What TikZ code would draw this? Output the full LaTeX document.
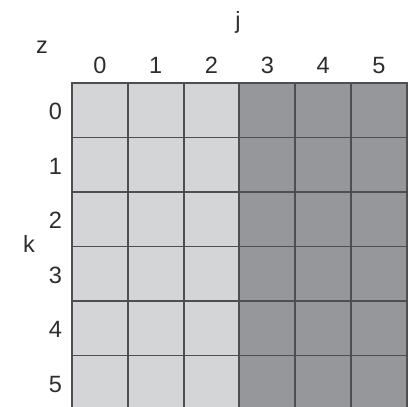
\documentclass[tikz,border=0pt]{standalone}
\usepackage{fontspec}
\setmainfont{Liberation Sans}
\usepackage{tikz}
\usetikzlibrary{positioning}
\definecolor{lightcell}{RGB}{212,213,215}
\definecolor{darkcell}{RGB}{150,151,155}
\definecolor{gridline}{RGB}{78,78,80}
\definecolor{labtext}{RGB}{45,45,45}

\begin{document}
\begin{tikzpicture}[
  x=0.02cm, y=-0.02cm,
  cell/.style={draw=gridline, line width=1.1pt},
  lab/.style={font=\fontsize{13.4}{16}\selectfont, text=labtext, anchor=base, inner sep=0pt}
]
\useasboundingbox (0,0) rectangle (408,406);
\clip (0,0) rectangle (408,406);
% cells: columns 0-2 light, 3-5 dark
\foreach \c in {0,...,5} {
  \foreach \r in {0,...,6} {
    \ifnum\c<3 \def\cellcol{lightcell}\else\def\cellcol{darkcell}\fi
    \draw[cell, fill=\cellcol] ({72+55.8*\c},{83+54.5*\r}) rectangle ({72+55.8*(\c+1)},{83+54.5*(\r+1)});
  }
}
% axis labels
\node[lab] (jlab) at (238,28) {j};
\node[lab] (zlab) at (42,53) {z};
\node[lab] (klab) at (29,252) {k};
\foreach \c in {0,...,5}
  \node[lab] (col\c) at ({72+55.8*(\c+0.5)},73) {\c};
\foreach \r in {0,...,5}
  \node[lab] (row\r) at (55.5,{83+54.5*(\r+0.5)+9.5}) {\r};
\end{tikzpicture}
\end{document}
